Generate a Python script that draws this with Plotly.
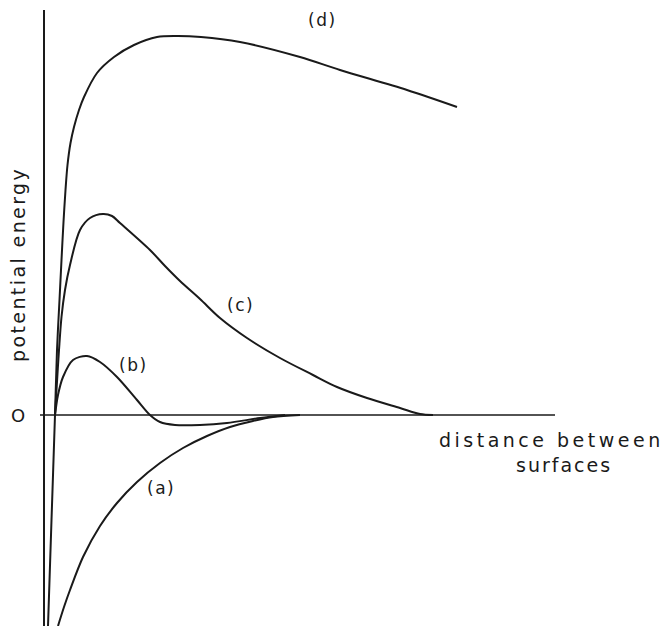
import plotly.graph_objects as go

# curve values (arbitrary units: distance, potential energy)
d_x = [0.08, 0.15, 0.22, 0.26, 0.31, 0.35, 0.39, 0.43, 0.47, 0.53, 0.60, 0.70, 0.80,
       1.06, 1.40, 1.80, 2.26, 2.66, 3.14, 3.92, 5.12, 5.92, 7.26, 8.26]
d_y = [-4.22, -2.10, 0.0, 1.30, 2.30, 3.10, 3.86, 4.50, 5.00, 5.44, 5.76, 6.10, 6.36,
       6.84, 7.16, 7.40, 7.56, 7.58, 7.56, 7.46, 7.16, 6.90, 6.50, 6.16]

c_x = [0.22, 0.25, 0.30, 0.35, 0.42, 0.52, 0.72, 0.92, 1.18, 1.36, 1.52, 2.12, 2.42,
       2.72, 3.12, 3.52, 4.06, 4.72, 5.38, 5.86, 6.46, 7.12, 7.52, 7.78]
c_y = [0.0, 0.50, 1.30, 1.96, 2.50, 3.00, 3.70, 3.94, 4.02, 3.98, 3.84, 3.30, 2.98,
       2.68, 2.32, 1.94, 1.54, 1.14, 0.80, 0.56, 0.34, 0.14, 0.02, 0.0]

b_x = [0.22, 0.28, 0.38, 0.58, 0.86, 1.12, 1.46, 1.86, 2.12, 2.32, 2.62, 3.12, 3.66,
       4.32, 4.82]
b_y = [0.0, 0.40, 0.76, 1.10, 1.18, 1.06, 0.76, 0.30, 0.0, -0.14, -0.20, -0.20, -0.16,
       -0.06, 0.0]

a_x = [0.28, 0.40, 0.52, 0.78, 1.12, 1.46, 1.86, 2.32, 2.78, 3.26, 3.72, 4.18, 4.58, 5.12]
a_y = [-4.22, -3.84, -3.50, -2.84, -2.22, -1.76, -1.34, -0.96, -0.66, -0.42, -0.24,
       -0.12, -0.04, 0.0]

labels = ["(a)", "(b)", "(c)", "(d)"]
label_x = [2.34, 1.78, 3.92, 5.56]
label_y = [-1.46, 1.00, 2.20, 8.14]

x_axis_end = 10.22
y_axis_top = 8.10
y_axis_bottom = -4.30

INK = "#1a1a1a"
FONT = "DejaVu Sans"


def spaced(text, px):
    return f'<span style="letter-spacing:{px}px">{text}</span>'


fig = go.Figure()

# axes drawn as plain lines
fig.add_trace(go.Scatter(x=[0, 0], y=[y_axis_bottom, y_axis_top], mode="lines",
                         line={"color": INK, "width": 2}, hoverinfo="skip"))
fig.add_trace(go.Scatter(x=[-0.08, x_axis_end], y=[0, 0], mode="lines",
                         line={"color": INK, "width": 1.6}, hoverinfo="skip"))

for xs, ys in [(d_x, d_y), (c_x, c_y), (b_x, b_y), (a_x, a_y)]:
    fig.add_trace(go.Scatter(x=xs, y=ys, mode="lines",
                             line={"color": INK, "width": 2, "shape": "spline",
                                   "smoothing": 0.9},
                             hoverinfo="skip"))

for t, x, y in zip(labels, label_x, label_y):
    fig.add_annotation(x=x, y=y, text=spaced(t, 1.5), showarrow=False,
                       yanchor="top" if t == "(d)" else "middle",
                       font={"family": FONT, "size": 17, "color": INK})

fig.add_annotation(x=-0.52, y=0, text="O", showarrow=False,
                   font={"family": FONT, "size": 18, "color": INK})
fig.add_annotation(x=-0.52, y=3.0, text=spaced("potential energy", 2.4), showarrow=False,
                   textangle=-90, font={"family": FONT, "size": 19, "color": INK})
fig.add_annotation(x=10.14, y=-0.5, text=spaced("distance between", 3.5), showarrow=False,
                   font={"family": FONT, "size": 19, "color": INK})
fig.add_annotation(x=10.40, y=-1.0, text=spaced("surfaces", 2), showarrow=False,
                   font={"family": FONT, "size": 19, "color": INK})

# the page body keeps an 8px margin, so the figure is 8px smaller than the window
fig.update_layout(
    width=663, height=618,
    margin={"l": 0, "r": 0, "t": 0, "b": 0},
    paper_bgcolor="white", plot_bgcolor="white",
    showlegend=False,
    xaxis={"visible": False, "range": [-0.72, 12.54], "fixedrange": True},
    yaxis={"visible": False, "range": [-4.22, 8.14], "fixedrange": True},
)

fig.write_html("out.html")
